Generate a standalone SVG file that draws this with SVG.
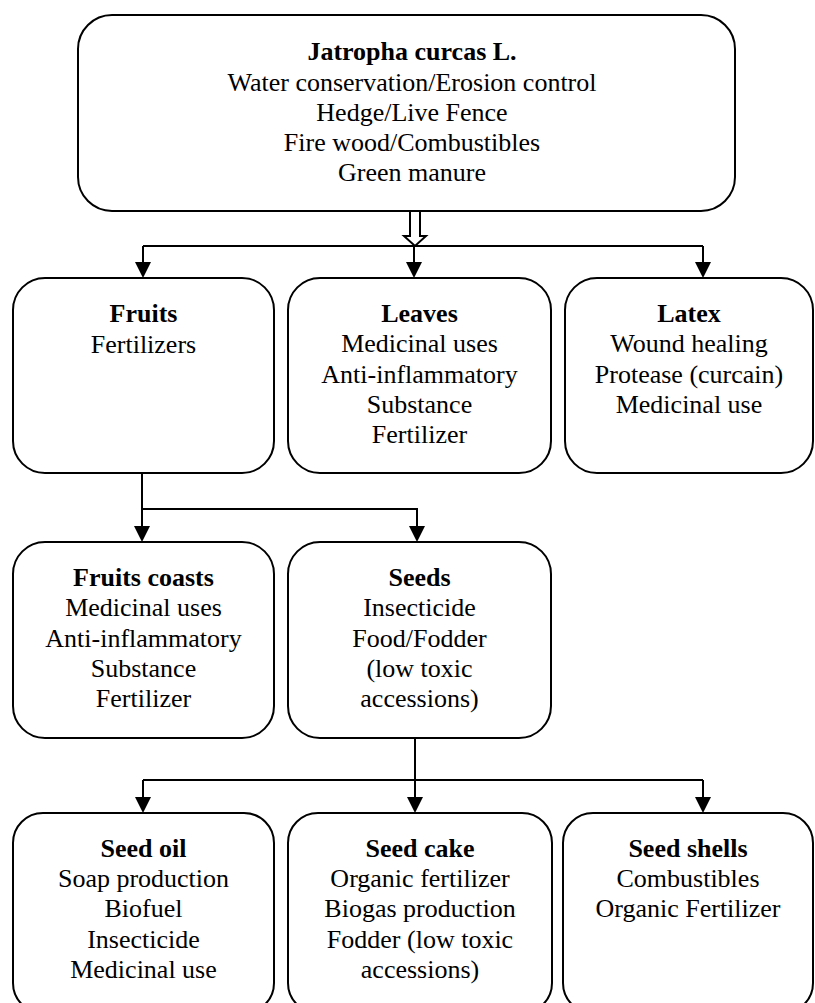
<svg xmlns="http://www.w3.org/2000/svg" width="815" height="1003" viewBox="0 0 815 1003">
<style>
.box{fill:#fff;stroke:#000;stroke-width:2}
.t{font-family:"Liberation Serif","Times New Roman",serif;font-size:26px;fill:#000;text-anchor:middle}
.b{font-weight:bold}
.c{fill:none;stroke:#000;stroke-width:2}
</style>
<defs>
<marker id="ah" markerWidth="16" markerHeight="16" viewBox="0 0 16 16" refX="8" refY="16" orient="auto-start-reverse" markerUnits="userSpaceOnUse">
<path d="M0,0 L16,0 L8,16 Z" fill="#000" transform="rotate(0)"/>
</marker>
</defs>
<g id="connectors">
<path class="c" d="M410,211 V236 H404 L415,246 L426,236 H420 V211"/>
<path class="c" d="M143,246 H703"/>
<path class="c" d="M143,246 V262"/><path d="M135,262 H151 L143,278 Z"/>
<path class="c" d="M414,246 V262"/><path d="M406,262 H422 L414,278 Z"/>
<path class="c" d="M703,246 V262"/><path d="M695,262 H711 L703,278 Z"/>
<path class="c" d="M142,473 V526 M142,509 H417 V526"/>
<path d="M134,526 H150 L142,542 Z"/>
<path d="M409,526 H425 L417,542 Z"/>
<path class="c" d="M415,738 V797 M143,780 H703 M143,780 V797 M703,780 V797"/>
<path d="M135,797 H151 L143,813 Z"/>
<path d="M407,797 H423 L415,813 Z"/>
<path d="M695,797 H711 L703,813 Z"/>
</g>
<g id="jatropha">
<rect class="box" x="78" y="15" width="657" height="196" rx="34"/>
<text class="t b" x="412" y="60">Jatropha curcas L.</text>
<text class="t" x="412" y="91">Water conservation/Erosion control</text>
<text class="t" x="412" y="121">Hedge/Live Fence</text>
<text class="t" x="412" y="151">Fire wood/Combustibles</text>
<text class="t" x="412" y="181">Green manure</text>
</g>
<g id="fruits">
<rect class="box" x="13" y="278" width="261" height="195" rx="32"/>
<text class="t b" x="143.5" y="322">Fruits</text>
<text class="t" x="143.5" y="353">Fertilizers</text>
</g>
<g id="leaves">
<rect class="box" x="288" y="278" width="263" height="195" rx="32"/>
<text class="t b" x="419.5" y="322">Leaves</text>
<text class="t" x="419.5" y="352">Medicinal uses</text>
<text class="t" x="419.5" y="383">Anti-inflammatory</text>
<text class="t" x="419.5" y="413">Substance</text>
<text class="t" x="419.5" y="443">Fertilizer</text>
</g>
<g id="latex">
<rect class="box" x="565" y="278" width="248" height="195" rx="32"/>
<text class="t b" x="689" y="322">Latex</text>
<text class="t" x="689" y="352">Wound healing</text>
<text class="t" x="689" y="383">Protease (curcain)</text>
<text class="t" x="689" y="413">Medicinal use</text>
</g>
<g id="fruits-coasts">
<rect class="box" x="13" y="542" width="261" height="196" rx="32"/>
<text class="t b" x="143.5" y="586">Fruits coasts</text>
<text class="t" x="143.5" y="616">Medicinal uses</text>
<text class="t" x="143.5" y="647">Anti-inflammatory</text>
<text class="t" x="143.5" y="677">Substance</text>
<text class="t" x="143.5" y="707">Fertilizer</text>
</g>
<g id="seeds">
<rect class="box" x="288" y="542" width="263" height="196" rx="32"/>
<text class="t b" x="419.5" y="586">Seeds</text>
<text class="t" x="419.5" y="616">Insecticide</text>
<text class="t" x="419.5" y="647">Food/Fodder</text>
<text class="t" x="419.5" y="677">(low toxic</text>
<text class="t" x="419.5" y="707">accessions)</text>
</g>
<g id="seed-oil">
<rect class="box" x="13" y="813" width="261" height="200" rx="30"/>
<text class="t b" x="143.5" y="857">Seed oil</text>
<text class="t" x="143.5" y="887">Soap production</text>
<text class="t" x="143.5" y="917">Biofuel</text>
<text class="t" x="143.5" y="948">Insecticide</text>
<text class="t" x="143.5" y="978">Medicinal use</text>
</g>
<g id="seed-cake">
<rect class="box" x="288" y="813" width="264" height="200" rx="30"/>
<text class="t b" x="420" y="857">Seed cake</text>
<text class="t" x="420" y="887">Organic fertilizer</text>
<text class="t" x="420" y="917">Biogas production</text>
<text class="t" x="420" y="948">Fodder (low toxic</text>
<text class="t" x="420" y="978">accessions)</text>
</g>
<g id="seed-shells">
<rect class="box" x="563" y="813" width="250" height="200" rx="30"/>
<text class="t b" x="688" y="857">Seed shells</text>
<text class="t" x="688" y="887">Combustibles</text>
<text class="t" x="688" y="917">Organic Fertilizer</text>
</g>
</svg>
